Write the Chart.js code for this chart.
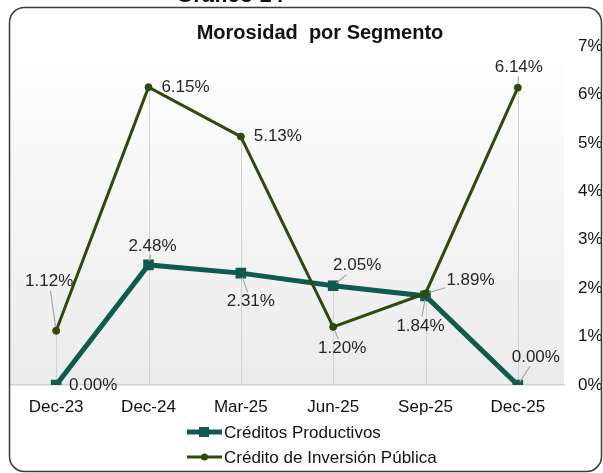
<!DOCTYPE html>
<html>
<head>
<meta charset="utf-8">
<script src="https://cdn.jsdelivr.net/npm/chart.js@4.4.1/dist/chart.umd.min.js"></script>
<style>
  html, body { margin: 0; padding: 0; background: #fff; }
  #wrap { width: 603px; height: 473px; }
</style>
</head>
<body>
<div id="wrap"><canvas id="myChart" width="603" height="473"></canvas></div>
<script>
var periods = ['Dec-23', 'Dec-24', 'Mar-25', 'Jun-25', 'Sep-25', 'Dec-25'];
var productivos = [0.00, 2.48, 2.31, 2.05, 1.84, 0.00];
var inversionPublica = [1.12, 6.15, 5.13, 1.20, 1.89, 6.14];
var yTicks = [0, 1, 2, 3, 4, 5, 6, 7];

var FONT = "'Liberation Sans', Arial, sans-serif";
var TEAL = '#0f5b50';
var OLIVE = '#2e4a0d';

// label placement (offset from point, px)
var tealLabelPos = [[37, 0], [4, -19], [10, 28], [24, -20], [-5, 30], [18, -28]];
var oliveLabelPos = [[-7, -49], [37, 0], [37, 0], [9, 21], [45, -13], [1, -20]];

var decor = {
    id: 'decor',
    beforeDraw: function (chart) {
        var ctx = chart.ctx, a = chart.chartArea;
        ctx.save();
        var g = ctx.createLinearGradient(0, a.top, 0, a.bottom);
        g.addColorStop(0, '#ffffff');
        g.addColorStop(1, '#ebebeb');
        ctx.fillStyle = g;
        ctx.fillRect(a.left, a.top, a.right - a.left, a.bottom - a.top);
        ctx.restore();
    },
    beforeDatasetsDraw: function (chart) {
        // drop lines from highest point to the axis
        var ctx = chart.ctx, a = chart.chartArea;
        var xs = chart.scales.x, ys = chart.scales.y;
        ctx.save();
        ctx.strokeStyle = '#d2d2d2';
        ctx.lineWidth = 1;
        for (var i = 0; i < periods.length; i++) {
            var top = Math.max(productivos[i], inversionPublica[i]);
            var x = Math.round(xs.getPixelForValue(i)) + 0.5;
            ctx.beginPath();
            ctx.moveTo(x, ys.getPixelForValue(top));
            ctx.lineTo(x, a.bottom);
            ctx.stroke();
        }
        ctx.restore();
    },
    afterDatasetsDraw: function (chart) {
        var ctx = chart.ctx;
        ctx.save();
        ctx.font = '17px ' + FONT;
        ctx.textAlign = 'center';
        ctx.textBaseline = 'middle';
        chart.data.datasets.forEach(function (ds, di) {
            var meta = chart.getDatasetMeta(di);
            meta.data.forEach(function (pt, i) {
                var off = ds.labelPos[i];
                var lx = pt.x + off[0], ly = pt.y + off[1];
                var txt = ds.data[i].toFixed(2) + '%';
                var hw = ctx.measureText(txt).width / 2 + 1, hh = 9;
                // leader line from point to label box edge
                var dx = lx - pt.x, dy = ly - pt.y;
                var tx = Math.abs(dx) > hw ? (Math.abs(dx) - hw) / Math.abs(dx) : 0;
                var ty = Math.abs(dy) > hh ? (Math.abs(dy) - hh) / Math.abs(dy) : 0;
                var t = Math.max(tx, ty);
                var ex = pt.x + dx * t, ey = pt.y + dy * t;
                var len = Math.sqrt((ex - pt.x) * (ex - pt.x) + (ey - pt.y) * (ey - pt.y));
                if (len > 8 && Math.abs(dy) >= 2) {
                    var s = 4 / len;
                    ctx.strokeStyle = '#a6a6a6';
                    ctx.lineWidth = 1.2;
                    ctx.beginPath();
                    ctx.moveTo(pt.x + (ex - pt.x) * s, pt.y + (ey - pt.y) * s);
                    ctx.lineTo(ex, ey);
                    ctx.stroke();
                }
                ctx.fillStyle = '#262626';
                ctx.fillText(txt, lx, ly);
            });
        });
        ctx.restore();
    },
    afterDraw: function (chart) {
        var ctx = chart.ctx;
        ctx.save();
        // frame
        ctx.strokeStyle = '#3a3a3a';
        ctx.lineWidth = 1.5;
        ctx.beginPath();
        ctx.roundRect(9.5, 7.5, 592, 464, 15);
        ctx.stroke();
        // cut-off heading above the frame
        ctx.fillStyle = '#111';
        ctx.font = 'bold 22px ' + FONT;
        ctx.textAlign = 'center';
        ctx.textBaseline = 'alphabetic';
        ctx.fillText('Gráfico 14', 230, 2);
        // title
        ctx.font = 'bold 20px ' + FONT;
        ctx.textBaseline = 'middle';
        ctx.fillText('Morosidad  por Segmento', 320, 33);
        // legend
        var rows = [
            { ds: chart.data.datasets[0], y: 432 },
            { ds: chart.data.datasets[1], y: 457 }
        ];
        ctx.textAlign = 'left';
        ctx.font = '17px ' + FONT;
        rows.forEach(function (r) {
            ctx.strokeStyle = r.ds.borderColor;
            ctx.lineWidth = r.ds.borderWidth;
            ctx.beginPath();
            ctx.moveTo(187, r.y);
            ctx.lineTo(222, r.y);
            ctx.stroke();
            ctx.fillStyle = r.ds.borderColor;
            if (r.ds.pointStyle === 'rect') {
                ctx.fillRect(199, r.y - 5, 10, 10);
            } else {
                ctx.beginPath();
                ctx.arc(204.5, r.y, 3.5, 0, Math.PI * 2);
                ctx.fill();
            }
            ctx.fillStyle = '#111';
            ctx.fillText(r.ds.label, 224, r.y + 1);
        });
        ctx.restore();
    }
};

var ctx = document.getElementById('myChart');

var myLineChart = new Chart(ctx, {
    type: 'line',
    data: {
        labels: periods,
        datasets: [
            {
                label: 'Créditos Productivos',
                data: productivos,
                borderColor: TEAL,
                backgroundColor: TEAL,
                borderWidth: 5,
                pointStyle: 'rect',
                pointRadius: 7.5,
                pointBorderWidth: 0,
                pointBackgroundColor: TEAL,
                tension: 0,
                order: 1,
                labelPos: tealLabelPos
            },
            {
                label: 'Crédito de Inversión Pública',
                data: inversionPublica,
                borderColor: OLIVE,
                backgroundColor: OLIVE,
                borderWidth: 3,
                pointStyle: 'circle',
                pointRadius: 3.5,
                pointBorderWidth: 1,
                pointBackgroundColor: OLIVE,
                tension: 0,
                order: 0,
                labelPos: oliveLabelPos
            }
        ]
    },
    options: {
        responsive: false,
        animation: false,
        devicePixelRatio: 1,
        layout: { padding: { left: 10, right: 0, top: 46, bottom: 58 } },
        plugins: {
            legend: { display: false },
            tooltip: { enabled: false },
            title: { display: false }
        },
        scales: {
            x: {
                offset: true,
                grid: { display: false, drawTicks: false },
                border: { display: true, color: '#d0d0d0', width: 1.5 },
                ticks: { color: '#111', font: { family: FONT, size: 17 }, padding: 12, maxRotation: 0 },
                afterFit: function (scale) { scale.height = 30; }
            },
            y: {
                position: 'right',
                min: 0,
                max: 7,
                grid: { display: false, drawTicks: false },
                border: { display: false },
                afterBuildTicks: function (scale) {
                    scale.ticks = yTicks.map(function (v) { return { value: v }; });
                },
                ticks: {
                    color: '#111',
                    font: { family: FONT, size: 17 },
                    padding: 14,
                    callback: function (v) { return v + '%'; }
                },
                afterFit: function (scale) { scale.width = 39; }
            }
        }
    },
    plugins: [decor]
});
</script>
</body>
</html>
